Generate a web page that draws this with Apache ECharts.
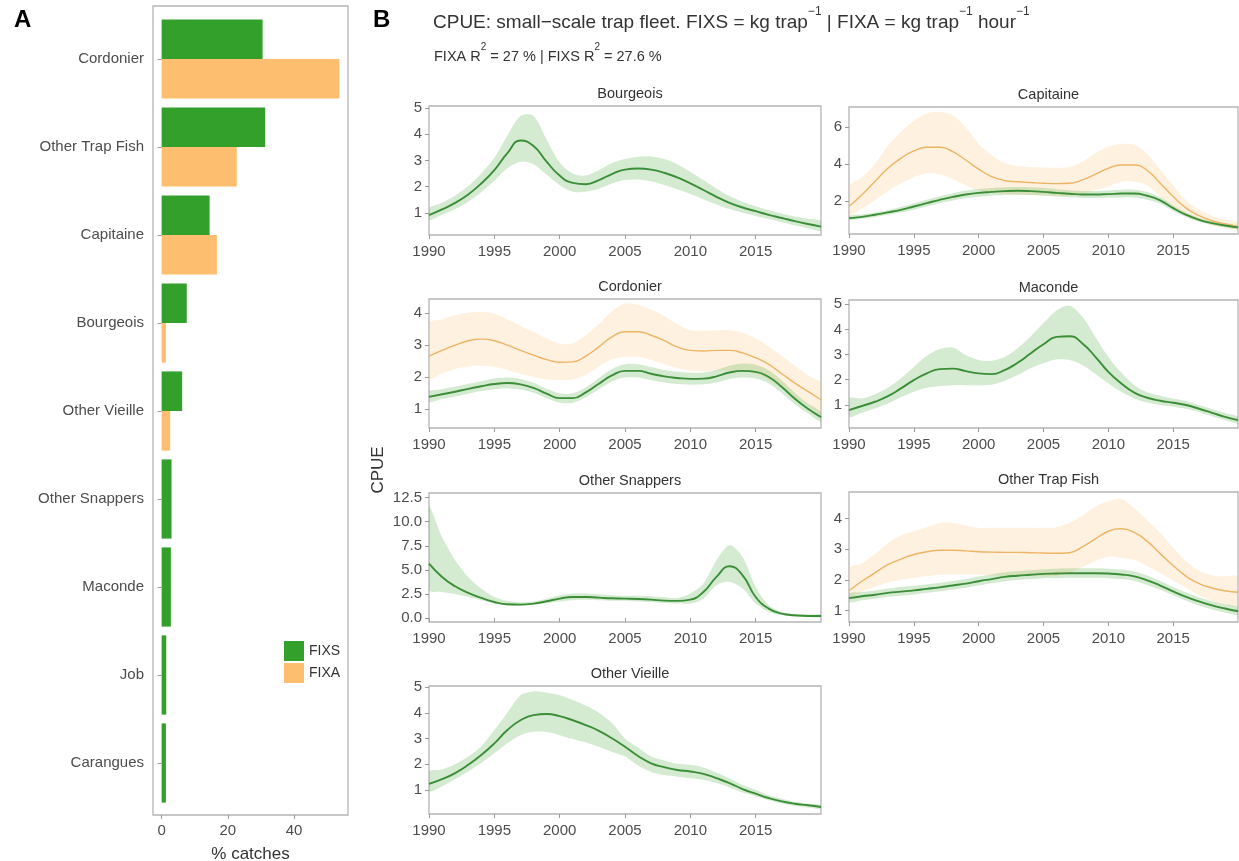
<!DOCTYPE html>
<html>
<head>
<meta charset="utf-8">
<script src="https://cdn.jsdelivr.net/npm/echarts@6/dist/echarts.min.js"></script>
<style>
html,body{margin:0;padding:0;background:#fff;}
#chart{width:1239px;height:861px;}
</style>
</head>
<body>
<div id="chart"></div>
<script>
// ---------- Panel A: share of catches by species ----------
const barSpecies = ['Cordonier', 'Other Trap Fish', 'Capitaine', 'Bourgeois', 'Other Vieille',
  'Other Snappers', 'Maconde', 'Job', 'Carangues'];
const barFIXS = [30.5, 31.3, 14.5, 7.6, 6.2, 3.0, 2.8, 1.4, 1.3];
const barFIXA = [53.7, 22.7, 16.7, 1.3, 2.6, null, null, null, null];
const catchTicks = [0, 20, 40];

// ---------- Panel B: smoothed CPUE by year ----------
const years = [1990, 1991, 1992, 1993, 1994, 1995, 1996, 1997, 1998, 1999, 2000, 2001, 2002, 2003, 2004,
  2005, 2006, 2007, 2008, 2009, 2010, 2011, 2012, 2013, 2014, 2015, 2016, 2017, 2018, 2019, 2020];
const yearTicks = [1990, 1995, 2000, 2005, 2010, 2015];

const bourgeoisFixsMid = [0.91,1.13,1.38,1.70,2.12,2.63,3.28,3.76,3.55,2.95,2.42,2.14,2.09,2.25,2.48,2.65,2.69,2.65,2.53,2.35,2.12,1.87,1.61,1.38,1.20,1.06,0.92,0.80,0.68,0.57,0.47];
const bourgeoisFixsLo  = [0.72,0.92,1.14,1.42,1.78,2.22,2.70,2.95,2.85,2.45,2.05,1.80,1.80,1.92,2.12,2.25,2.27,2.20,2.06,1.90,1.72,1.52,1.32,1.14,1.00,0.88,0.76,0.64,0.52,0.41,0.31];
const bourgeoisFixsHi  = [1.17,1.38,1.66,2.02,2.50,3.10,3.95,4.70,4.70,3.80,2.92,2.50,2.42,2.62,2.90,3.05,3.14,3.15,3.05,2.85,2.56,2.25,1.92,1.64,1.42,1.25,1.10,0.97,0.86,0.77,0.68];

const capitaineFixaMid = [1.71,2.34,3.06,3.78,4.32,4.72,4.92,4.92,4.68,4.23,3.73,3.33,3.12,3.05,3.01,2.97,2.95,2.97,3.15,3.46,3.78,3.96,3.96,3.66,2.97,2.25,1.62,1.21,0.94,0.77,0.63];
const capitaineFixaLo  = [1.26,1.60,2.05,2.55,2.95,3.30,3.50,3.45,3.20,2.85,2.60,2.45,2.38,2.35,2.33,2.30,2.28,2.28,2.40,2.60,2.80,3.05,3.05,2.85,2.25,1.65,1.20,0.92,0.70,0.55,0.42];
const capitaineFixaHi  = [2.79,3.30,4.00,5.00,5.75,6.35,6.75,6.85,6.65,6.00,5.10,4.50,4.05,3.90,3.85,3.82,3.80,3.85,4.15,4.60,4.95,5.10,5.05,4.55,3.70,2.85,2.05,1.55,1.20,1.00,0.82];
const capitaineFixsMid = [1.08,1.15,1.26,1.39,1.53,1.71,1.89,2.07,2.23,2.36,2.45,2.50,2.54,2.56,2.54,2.50,2.45,2.40,2.36,2.36,2.38,2.41,2.41,2.29,2.04,1.62,1.26,0.99,0.81,0.68,0.58];
const capitaineFixsLo  = [0.97,1.04,1.14,1.26,1.38,1.54,1.71,1.88,2.03,2.15,2.24,2.29,2.33,2.35,2.33,2.29,2.25,2.21,2.17,2.17,2.18,2.20,2.20,2.08,1.86,1.47,1.13,0.88,0.71,0.59,0.49];
const capitaineFixsHi  = [1.20,1.27,1.38,1.52,1.68,1.88,2.07,2.26,2.43,2.57,2.66,2.71,2.75,2.77,2.75,2.71,2.65,2.59,2.55,2.55,2.58,2.62,2.62,2.50,2.22,1.77,1.39,1.10,0.91,0.77,0.67];

const cordonierFixaMid = [2.65,2.83,2.99,3.13,3.18,3.13,2.99,2.83,2.68,2.54,2.46,2.47,2.65,2.94,3.25,3.41,3.41,3.30,3.13,2.94,2.83,2.81,2.83,2.83,2.75,2.60,2.39,2.10,1.81,1.55,1.29];
const cordonierFixaLo  = [1.95,2.10,2.25,2.33,2.36,2.32,2.22,2.10,2.00,1.92,1.90,1.92,2.07,2.33,2.55,2.62,2.62,2.53,2.40,2.28,2.20,2.18,2.20,2.20,2.17,2.10,1.92,1.65,1.35,1.10,0.85];
const cordonierFixaHi  = [3.67,3.80,3.92,4.00,4.03,3.98,3.80,3.60,3.40,3.20,3.04,3.05,3.30,3.65,4.05,4.29,4.25,4.10,3.90,3.65,3.46,3.44,3.46,3.46,3.38,3.20,2.95,2.65,2.35,2.05,1.79];
const cordonierFixsMid = [1.38,1.46,1.54,1.63,1.71,1.78,1.81,1.77,1.66,1.48,1.34,1.34,1.52,1.79,2.05,2.19,2.19,2.10,2.02,1.97,1.94,1.95,2.02,2.14,2.19,2.16,2.00,1.69,1.32,1.01,0.75];
const cordonierFixsLo  = [1.22,1.31,1.39,1.48,1.56,1.62,1.65,1.61,1.51,1.34,1.20,1.20,1.37,1.62,1.86,1.98,1.98,1.90,1.83,1.78,1.76,1.77,1.83,1.94,1.98,1.95,1.80,1.50,1.15,0.86,0.61];
const cordonierFixsHi  = [1.55,1.62,1.70,1.79,1.87,1.95,1.98,1.94,1.82,1.63,1.49,1.49,1.68,1.97,2.25,2.40,2.40,2.31,2.22,2.16,2.13,2.14,2.22,2.35,2.42,2.38,2.21,1.89,1.50,1.17,0.90];

const macondeFixsMid = [0.79,0.95,1.12,1.34,1.65,1.98,2.25,2.42,2.44,2.34,2.25,2.22,2.38,2.67,3.04,3.41,3.70,3.73,3.44,2.91,2.31,1.85,1.48,1.28,1.16,1.08,0.99,0.84,0.68,0.52,0.39];
const macondeFixsLo  = [0.52,0.68,0.85,1.05,1.30,1.52,1.68,1.74,1.78,1.78,1.78,1.80,1.95,2.18,2.45,2.65,2.80,2.78,2.58,2.22,1.85,1.52,1.25,1.09,0.99,0.92,0.84,0.70,0.54,0.39,0.26];
const macondeFixsHi  = [1.25,1.25,1.42,1.68,2.05,2.50,2.95,3.22,3.28,2.98,2.78,2.75,2.90,3.25,3.72,4.25,4.75,4.95,4.50,3.70,2.90,2.28,1.78,1.50,1.36,1.25,1.15,0.99,0.83,0.67,0.52];

const snappersFixsMid = [5.64,4.26,3.29,2.60,2.08,1.66,1.42,1.39,1.49,1.73,2.01,2.18,2.18,2.11,2.04,2.01,1.97,1.90,1.80,1.77,1.90,2.70,4.26,5.37,4.43,2.18,0.97,0.45,0.28,0.21,0.21];
const snappersFixsLo  = [2.94,2.70,2.50,2.18,1.84,1.49,1.30,1.28,1.36,1.55,1.72,1.85,1.88,1.85,1.80,1.78,1.72,1.65,1.55,1.50,1.49,2.00,3.39,3.74,3.05,1.49,0.62,0.30,0.15,0.10,0.08];
const snappersFixsHi  = [11.5,8.40,6.00,4.26,3.05,2.18,1.78,1.62,1.72,2.00,2.35,2.55,2.55,2.45,2.35,2.30,2.30,2.25,2.15,2.08,2.53,3.57,6.00,7.55,6.34,3.22,1.32,0.62,0.42,0.35,0.35];

const trapFishFixaMid = [1.65,1.96,2.23,2.50,2.68,2.83,2.92,2.97,2.97,2.95,2.92,2.91,2.90,2.90,2.89,2.88,2.87,2.89,3.08,3.34,3.59,3.67,3.55,3.26,2.86,2.47,2.12,1.88,1.74,1.65,1.60];
const trapFishFixaLo  = [1.47,1.62,1.78,1.92,2.00,2.07,2.12,2.17,2.18,2.18,2.17,2.15,2.14,2.13,2.12,2.12,2.14,2.23,2.42,2.62,2.77,2.72,2.66,2.45,2.23,1.98,1.74,1.50,1.32,1.20,1.14];
const trapFishFixaHi  = [2.39,2.55,2.85,3.20,3.45,3.59,3.72,3.86,3.86,3.78,3.70,3.70,3.70,3.70,3.70,3.70,3.72,3.86,4.10,4.40,4.57,4.64,4.35,3.95,3.53,3.05,2.61,2.30,2.15,2.12,2.12];
const trapFishFixsMid = [1.41,1.47,1.52,1.58,1.62,1.66,1.71,1.76,1.82,1.88,1.96,2.03,2.10,2.14,2.17,2.20,2.21,2.22,2.22,2.22,2.21,2.18,2.12,1.99,1.82,1.63,1.45,1.30,1.17,1.07,0.98];
const trapFishFixsLo  = [1.28,1.34,1.39,1.45,1.49,1.53,1.58,1.63,1.69,1.75,1.82,1.89,1.96,2.00,2.03,2.06,2.06,2.07,2.07,2.07,2.06,2.03,1.97,1.84,1.68,1.50,1.32,1.17,1.04,0.94,0.86];
const trapFishFixsHi  = [1.56,1.61,1.66,1.72,1.77,1.81,1.86,1.91,1.97,2.03,2.11,2.18,2.25,2.29,2.32,2.35,2.37,2.38,2.38,2.38,2.37,2.34,2.28,2.15,1.97,1.77,1.59,1.44,1.31,1.21,1.11];

const vieilleFixsMid = [1.24,1.42,1.66,1.98,2.36,2.81,3.33,3.71,3.91,3.95,3.87,3.71,3.52,3.30,3.01,2.68,2.32,2.04,1.89,1.78,1.72,1.63,1.46,1.27,1.04,0.86,0.69,0.56,0.47,0.41,0.34];
const vieilleFixsLo  = [0.95,1.15,1.42,1.72,2.05,2.43,2.82,3.13,3.26,3.25,3.13,2.98,2.85,2.68,2.48,2.30,1.95,1.70,1.58,1.52,1.46,1.40,1.27,1.10,0.90,0.76,0.60,0.48,0.38,0.32,0.27];
const vieilleFixsHi  = [1.72,1.80,2.00,2.30,2.70,3.33,4.00,4.68,4.83,4.78,4.68,4.50,4.28,4.00,3.60,3.00,2.65,2.30,2.15,2.02,1.98,1.88,1.68,1.45,1.20,1.01,0.80,0.66,0.55,0.48,0.43];

const cpueTicksDefault = [1, 2, 3, 4, 5];
const cpueTicksCapitaine = [2, 4, 6];
const cpueTicksCordonier = [1, 2, 3, 4];
const cpueTicksSnappers = [0, 2.5, 5, 7.5, 10, 12.5];
const cpueTicksTrapFish = [1, 2, 3, 4];

// ---------- styling ----------
const FONT = '"Liberation Sans", Arial, Helvetica, sans-serif';
const C_FIXS = '#33a02c';
const C_FIXA = '#fdbf6f';
const LINE_FIXS = '#3b8e37';
const LINE_FIXA = '#eeb466';
const BAND_FIXS = 'rgba(51,160,44,0.21)';
const BAND_FIXA = 'rgba(253,191,111,0.22)';
const LABEL = '#4d4d4d';
const BORDER = '#b5b5b5';
const TICK = '#999';

// facet layout (pixel boxes) and the curves shown in each facet
const facets = [
  { title: 'Bourgeois', box: [429, 106, 392, 129], yRange: [0.15, 5.08], ticks: cpueTicksDefault, digits: 0,
    curves: [{ fleet: 'FIXS', mid: bourgeoisFixsMid, lo: bourgeoisFixsLo, hi: bourgeoisFixsHi }] },
  { title: 'Capitaine', box: [849, 107, 389, 127], yRange: [0.22, 7.1], ticks: cpueTicksCapitaine, digits: 0,
    curves: [{ fleet: 'FIXA', mid: capitaineFixaMid, lo: capitaineFixaLo, hi: capitaineFixaHi },
             { fleet: 'FIXS', mid: capitaineFixsMid, lo: capitaineFixsLo, hi: capitaineFixsHi }] },
  { title: 'Cordonier', box: [429, 299, 392, 129], yRange: [0.41, 4.43], ticks: cpueTicksCordonier, digits: 0,
    curves: [{ fleet: 'FIXA', mid: cordonierFixaMid, lo: cordonierFixaLo, hi: cordonierFixaHi },
             { fleet: 'FIXS', mid: cordonierFixsMid, lo: cordonierFixsLo, hi: cordonierFixsHi }] },
  { title: 'Maconde', box: [849, 300, 389, 128], yRange: [0.075, 5.17], ticks: cpueTicksDefault, digits: 0,
    curves: [{ fleet: 'FIXS', mid: macondeFixsMid, lo: macondeFixsLo, hi: macondeFixsHi }] },
  { title: 'Other Snappers', box: [429, 493, 392, 129], yRange: [-0.42, 12.98], ticks: cpueTicksSnappers, digits: 1,
    curves: [{ fleet: 'FIXS', mid: snappersFixsMid, lo: snappersFixsLo, hi: snappersFixsHi }] },
  { title: 'Other Trap Fish', box: [849, 492, 389, 130], yRange: [0.63, 4.87], ticks: cpueTicksTrapFish, digits: 0,
    curves: [{ fleet: 'FIXA', mid: trapFishFixaMid, lo: trapFishFixaLo, hi: trapFishFixaHi },
             { fleet: 'FIXS', mid: trapFishFixsMid, lo: trapFishFixsLo, hi: trapFishFixsHi }] },
  { title: 'Other Vieille', box: [429, 686, 392, 128], yRange: [0.07, 5.04], ticks: cpueTicksDefault, digits: 0,
    curves: [{ fleet: 'FIXS', mid: vieilleFixsMid, lo: vieilleFixsLo, hi: vieilleFixsHi }] }
];

const grids = [];
const xAxes = [];
const yAxes = [];
const series = [];
const titles = [];

function makeGrid(left, top, width, height, framed) {
  return { left, top, width, height, outerBoundsMode: 'none', containLabel: false,
    show: !!framed, borderColor: BORDER, borderWidth: 1.3 };
}

// ---- panel A: framed box (grid 0) holding the catch axis, bars in grid 1 ----
const CATCH_MIN = -2.6, CATCH_MAX = 56.3;
grids.push(makeGrid(153, 6, 195, 809, true));
grids.push(makeGrid(153, 15, 195, 792, false));
xAxes.push({
  type: 'value', gridIndex: 0, min: CATCH_MIN, max: CATCH_MAX,
  name: '% catches', nameLocation: 'middle', nameGap: 31,
  nameTextStyle: { fontFamily: FONT, fontSize: 17, color: '#333' },
  axisLine: { show: false }, splitLine: { show: false },
  axisTick: { show: true, length: 4, lineStyle: { color: TICK }, customValues: catchTicks },
  axisLabel: { fontFamily: FONT, fontSize: 15, color: LABEL, margin: 8, customValues: catchTicks }
});
yAxes.push({ type: 'value', gridIndex: 0, show: false, min: 0, max: 1 });
xAxes.push({ type: 'value', gridIndex: 1, show: false, min: CATCH_MIN, max: CATCH_MAX });
const catAxis = {
  type: 'category', gridIndex: 1, data: barSpecies, inverse: true,
  axisLine: { show: false }, splitLine: { show: false },
  axisTick: { show: true, alignWithLabel: true, length: 4, lineStyle: { color: TICK } },
  axisLabel: { fontFamily: FONT, fontSize: 15, color: LABEL, margin: 9 }
};
yAxes.push(catAxis);
yAxes.push(Object.assign({}, catAxis, { show: false }));

const pairedFIXS = barFIXS.map((v, i) => (barFIXA[i] == null ? null : v));
const singleFIXS = barFIXS.map((v, i) => (barFIXA[i] == null ? v : null));
series.push({ type: 'bar', name: 'FIXS', xAxisIndex: 1, yAxisIndex: 1, data: pairedFIXS,
  itemStyle: { color: C_FIXS }, barGap: '0%', barCategoryGap: '10%' });
series.push({ type: 'bar', name: 'FIXA', xAxisIndex: 1, yAxisIndex: 1, data: barFIXA,
  itemStyle: { color: C_FIXA }, barGap: '0%', barCategoryGap: '10%' });
series.push({ type: 'bar', name: 'FIXS', xAxisIndex: 1, yAxisIndex: 2, data: singleFIXS,
  itemStyle: { color: C_FIXS }, barCategoryGap: '10%' });

// ---- panel B facets ----
facets.forEach((f, k) => {
  const gi = k + 2;
  const xi = k + 2;
  const yi = k + 3;
  const [left, top, width, height] = f.box;
  grids.push(makeGrid(left, top, width, height, true));
  xAxes.push({
    type: 'value', gridIndex: gi, min: 1990, max: 2020,
    axisLine: { show: false }, splitLine: { show: false },
    axisTick: { show: true, length: 4, lineStyle: { color: TICK }, customValues: yearTicks },
    axisLabel: { fontFamily: FONT, fontSize: 15, color: LABEL, margin: 9, customValues: yearTicks,
      formatter: v => String(v) }
  });
  yAxes.push({
    type: 'value', gridIndex: gi, min: f.yRange[0], max: f.yRange[1],
    axisLine: { show: false }, splitLine: { show: false },
    axisTick: { show: true, length: 4, lineStyle: { color: TICK }, customValues: f.ticks },
    axisLabel: { fontFamily: FONT, fontSize: 15, color: LABEL, margin: 7, customValues: f.ticks,
      formatter: v => v.toFixed(f.digits) }
  });
  titles.push({ text: f.title, left: left + width / 2, top: top - 25, textAlign: 'center',
    textStyle: { fontFamily: FONT, fontSize: 14.5, fontWeight: 'normal', color: '#333' } });

  // confidence ribbons first, then the fitted curves on top
  f.curves.forEach(c => {
    const bandColor = c.fleet === 'FIXS' ? BAND_FIXS : BAND_FIXA;
    series.push({
      type: 'custom', name: f.title + ' ' + c.fleet + ' interval', xAxisIndex: xi, yAxisIndex: yi,
      silent: true, clip: true, z: 1,
      data: years.map((y, i) => [y, c.lo[i], c.hi[i]]),
      encode: { x: 0, y: [1, 2] },
      renderItem: (params, api) => {
        if (params.dataIndex !== 0) return null;
        const upper = years.map((y, i) => api.coord([y, c.hi[i]]));
        const lower = years.map((y, i) => api.coord([y, c.lo[i]])).reverse();
        return {
          type: 'polygon',
          shape: { points: upper.concat(lower), smooth: 0.3 },
          style: { fill: bandColor }
        };
      }
    });
  });
  f.curves.forEach(c => {
    series.push({ type: 'line', name: f.title + ' ' + c.fleet, xAxisIndex: xi, yAxisIndex: yi,
      smooth: 0.5, symbol: 'none', silent: true, z: 3,
      lineStyle: { color: c.fleet === 'FIXS' ? LINE_FIXS : LINE_FIXA, width: c.fleet === 'FIXS' ? 1.9 : 1.4 },
      data: years.map((y, i) => [y, c.mid[i]]) });
  });
});

// ---- headings ----
titles.push({ text: 'A', left: 9, top: 3, textStyle: { fontFamily: FONT, fontSize: 24, fontWeight: 'bold', color: '#000' } });
titles.push({ text: 'B', left: 368, top: 3, textStyle: { fontFamily: FONT, fontSize: 24, fontWeight: 'bold', color: '#000' } });
titles.push({
  text: '{t|CPUE: small\u2212scale trap fleet. FIXS = kg trap}{s|\u22121}{t| | FIXA = kg trap}{s|\u22121}{t| hour}{s|\u22121}',
  left: 428, top: 1,
  textStyle: { fontWeight: 'normal', rich: {
    t: { fontFamily: FONT, fontSize: 19, fontWeight: 'normal', color: '#333', lineHeight: 26, verticalAlign: 'bottom' },
    s: { fontFamily: FONT, fontSize: 12, fontWeight: 'normal', color: '#333', lineHeight: 26, verticalAlign: 'top' }
  } }
});
titles.push({
  text: '{t|FIXA R}{s|2}{t| = 27 % | FIXS R}{s|2}{t| = 27.6 %}',
  left: 429, top: 37,
  textStyle: { fontWeight: 'normal', rich: {
    t: { fontFamily: FONT, fontSize: 14.5, fontWeight: 'normal', color: '#333', lineHeight: 22, verticalAlign: 'bottom' },
    s: { fontFamily: FONT, fontSize: 10, fontWeight: 'normal', color: '#333', lineHeight: 22, verticalAlign: 'top' }
  } }
});

const chart = echarts.init(document.getElementById('chart'), null, { renderer: 'canvas' });
chart.setOption({
  animation: false,
  backgroundColor: '#fff',
  title: titles,
  legend: {
    data: ['FIXS', 'FIXA'], orient: 'vertical', left: 279, top: 636,
    itemWidth: 20, itemHeight: 20, itemGap: 2, icon: 'rect',
    textStyle: { fontFamily: FONT, fontSize: 14, color: '#333' }
  },
  graphic: [{
    type: 'text', x: 378, y: 470, rotation: Math.PI / 2,
    style: { text: 'CPUE', fontFamily: FONT, fontSize: 17, fill: '#333', textAlign: 'center', textVerticalAlign: 'middle' }
  }],
  grid: grids,
  xAxis: xAxes,
  yAxis: yAxes,
  series: series
});
</script>
</body>
</html>
